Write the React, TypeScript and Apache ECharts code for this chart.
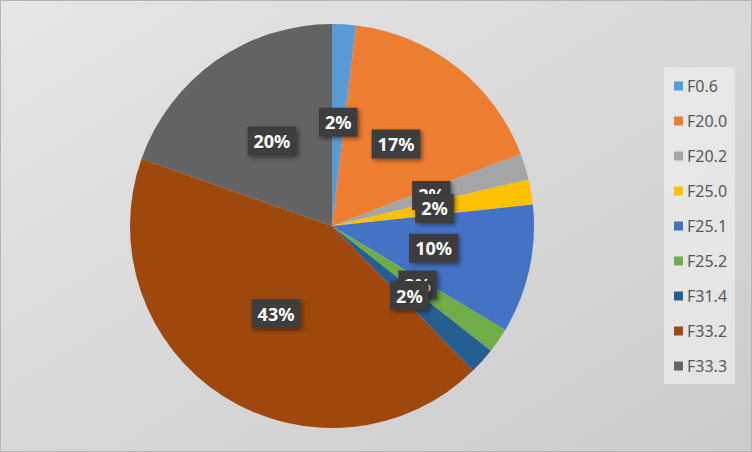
import React, { useEffect, useRef } from "react";
import * as echarts from "echarts";

const categories = ["F0.6", "F20.0", "F20.2", "F25.0", "F25.1", "F25.2", "F31.4", "F33.2", "F33.3"];
const values = [1.9, 17.3, 2.1, 2.0, 10.3, 2.0, 2.1, 42.7, 19.6];
const colors = ["#5B9BD5", "#ED7D31", "#A5A5A5", "#FFC000", "#4472C4", "#70AD47", "#255E91", "#9E480E", "#636363"];

export default function App() {
  const ref = useRef<HTMLDivElement>(null);
  useEffect(() => {
    document.body.style.margin = "0";
    const chart = echarts.init(ref.current!, undefined, { renderer: "svg" });
    chart.setOption({
      animation: false,
      backgroundColor: {
        type: "linear",
        x: 0,
        y: 0,
        x2: 1,
        y2: 1,
        colorStops: [
          { offset: 0, color: "#e6e6e6" },
          { offset: 1, color: "#cbcbcb" },
        ],
      },
      color: colors,
      graphic: [
        {
          type: "rect",
          shape: { x: 0.5, y: 0.5, width: 751, height: 451 },
          style: { fill: "none", stroke: "#b5b5b5", lineWidth: 1 },
          silent: true,
        },
      ],
      legend: {
        orient: "vertical",
        left: 664,
        top: 67,
        backgroundColor: "rgba(238,238,238,0.7)",
        padding: [11, 8, 10, 10],
        itemWidth: 9,
        itemHeight: 9,
        itemGap: 19,
        icon: "rect",
        textStyle: {
          color: "#595959",
          fontSize: 16,
          lineHeight: 16,
          fontFamily: "Noto Sans",
          padding: [0, 0, 0, -1],
        },
        data: categories,
      },
      series: [
        {
          type: "pie",
          center: [332, 226],
          radius: 202,
          startAngle: 90,
          clockwise: true,
          avoidLabelOverlap: false,
          labelLayout: { hideOverlap: false },
          data: categories.map((c, i) => ({ name: c, value: values[i] })),
          label: {
            show: true,
            position: "inside",
            formatter: (p: any) => Math.round(p.percent) + "%",
            color: "#ffffff",
            fontSize: 18,
            fontWeight: "bold",
            fontFamily: "Noto Sans",
            backgroundColor: "#3d3d3d",
            padding: [6, 6, 5, 6],
            shadowBlur: 4,
            shadowColor: "rgba(0,0,0,0.45)",
            shadowOffsetX: 2,
            shadowOffsetY: 2,
          },
          labelLine: { show: false },
          itemStyle: { borderWidth: 0 },
          emphasis: { disabled: true },
        },
      ],
    });
    return () => chart.dispose();
  }, []);
  return <div ref={ref} style={{ width: 752, height: 452 }} />;
}
